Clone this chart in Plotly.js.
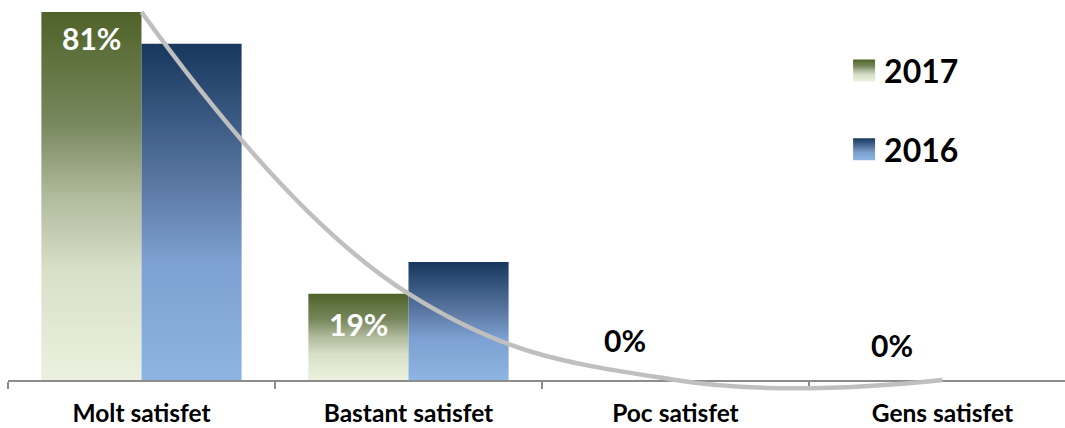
<!DOCTYPE html>
<html>
<head>
<meta charset="utf-8">
<script src="https://cdn.plot.ly/plotly-3.0.1.min.js"></script>
<style>
  html, body { margin: 0; padding: 0; background: #ffffff; }
  #chart { width: 1065px; height: 428px; }
</style>
</head>
<body>
<div id="chart"></div>
<script>
// Satisfaction survey, share of answers per level
const categories = ['Molt satisfet', 'Bastant satisfet', 'Poc satisfet', 'Gens satisfet'];
const values2017 = [81, 19, 0, 0];
const values2016 = [74, 26, 0, 0];
const seriesNames = ['2017', '2016'];

// Vertical gradients used for the bar fills (top -> bottom)
const gradient2017 = [[0, '#4F6228'], [0.3, '#77875D'], [0.5, '#B0BA9C'], [0.7, '#D8E0C8'], [1, '#EBF1DE']];
const gradient2016 = [[0, '#17375E'], [0.45, '#5F7DA8'], [0.65, '#7DA1D2'], [1, '#8DB4E2']];

const BARGAP = 0.25;
// centre of the first (2017) bar inside each category group
const firstBarOffset = -(1 - BARGAP) / 4;
// vertical nudge of each value label (px): inside the bar top, or above an empty bar
const labelShift = [-26, -30, 40, 35];

const traces = [
  {
    type: 'bar', name: seriesNames[0], x: categories, y: values2017,
    marker: { color: '#9AA880', line: { width: 0 } }, legendgroup: 'g2017', hoverinfo: 'none'
  },
  {
    type: 'bar', name: seriesNames[1], x: categories, y: values2016,
    marker: { color: '#5F7DA8', line: { width: 0 } }, legendgroup: 'g2016', hoverinfo: 'none'
  },
  {
    type: 'scatter', mode: 'lines', x: categories, y: values2017,
    line: { shape: 'spline', smoothing: 1.2, color: '#BFBFBF', width: 4.5 },
    showlegend: false, cliponaxis: false, hoverinfo: 'none'
  }
];

// value labels for the 2017 series
const annotations = values2017.map((v, i) => ({
  x: i + firstBarOffset, y: v, xref: 'x', yref: 'y',
  text: v + '%', showarrow: false,
  yshift: labelShift[i],
  font: { family: 'Lato, sans-serif', size: 30, weight: 'bold', color: v > 0 ? '#FFFFFF' : '#000000' }
}));

const layout = {
  width: 1065, height: 428,
  margin: { l: 8, r: 0, t: 12, b: 48 },
  paper_bgcolor: '#ffffff', plot_bgcolor: '#ffffff',
  barmode: 'group', bargap: BARGAP, bargroupgap: 0,
  font: { family: 'Lato, sans-serif', color: '#000000' },
  xaxis: {
    type: 'category', range: [-0.5, 3.459],
    tickson: 'boundaries', ticks: 'outside', ticklen: 7, tickcolor: '#8C8C8C', tickwidth: 1.5,
    showline: true, linecolor: '#8C8C8C', linewidth: 1.5, layer: 'below traces',
    showgrid: false, zeroline: false, fixedrange: true, ticklabelstandoff: 11,
    tickfont: { family: 'Lato, sans-serif', size: 24.5, weight: 'bold', color: '#000000' }
  },
  yaxis: { range: [0, 81], visible: false, showgrid: false, zeroline: false, fixedrange: true },
  showlegend: true,
  legend: {
    x: 0.791, y: 0.915, xanchor: 'left', yanchor: 'top',
    traceorder: 'grouped', tracegroupgap: 34,
    bgcolor: 'rgba(0,0,0,0)', borderwidth: 0,
    font: { family: 'Lato, sans-serif', size: 32, weight: 'bold', color: '#000000' }
  },
  annotations: annotations
};

function addGradient(svg, id, stops) {
  const ns = 'http://www.w3.org/2000/svg';
  let defs = svg.querySelector('defs.bar-gradients');
  if (!defs) {
    defs = document.createElementNS(ns, 'defs');
    defs.setAttribute('class', 'bar-gradients');
    svg.insertBefore(defs, svg.firstChild);
  }
  const g = document.createElementNS(ns, 'linearGradient');
  g.setAttribute('id', id);
  g.setAttribute('x1', '0'); g.setAttribute('y1', '0');
  g.setAttribute('x2', '0'); g.setAttribute('y2', '1');
  stops.forEach(([off, col]) => {
    const s = document.createElementNS(ns, 'stop');
    s.setAttribute('offset', off);
    s.setAttribute('stop-color', col);
    g.appendChild(s);
  });
  defs.appendChild(g);
}

Plotly.newPlot('chart', traces, layout, { staticPlot: true, displayModeBar: false }).then(gd => {
  const svg = gd.querySelector('.main-svg');
  const ids = ['fill2017', 'fill2016'];
  addGradient(svg, ids[0], gradient2017);
  addGradient(svg, ids[1], gradient2016);

  // bar fills
  gd.querySelectorAll('.barlayer .trace').forEach((t, i) => {
    t.querySelectorAll('path').forEach(p => { p.style.fill = 'url(#' + ids[i] + ')'; });
  });

  // let the smoothed line overshoot the plot edges (it dips just under the baseline)
  const scatterLayer = gd.querySelector('.scatterlayer');
  if (scatterLayer) {
    [scatterLayer, ...scatterLayer.querySelectorAll('[clip-path]')].forEach(el => el.removeAttribute('clip-path'));
    let el = scatterLayer.parentNode;
    while (el && el !== svg) { el.removeAttribute && el.removeAttribute('clip-path'); el = el.parentNode; }
  }

  // larger gradient swatches in the legend
  gd.querySelectorAll('.legend .traces').forEach((t, i) => {
    t.querySelectorAll('.legendpoints path').forEach(p => {
      p.setAttribute('d', 'M11,11H-11V-11H11Z');
      p.style.fill = 'url(#' + ids[i] + ')';
    });
  });
});
</script>
</body>
</html>
